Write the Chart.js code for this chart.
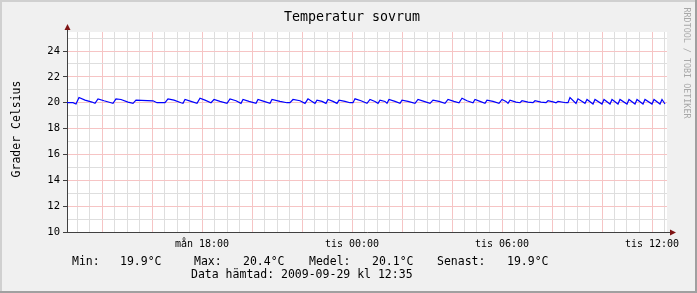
<!DOCTYPE html>
<html>
<head>
<meta charset="utf-8">
<script src="https://cdn.jsdelivr.net/npm/chart.js@4/dist/chart.umd.min.js"></script>
<style>
  html, body { margin: 0; padding: 0; background: #f0f0f0; }
  canvas { display: block; }
</style>
</head>
<body>
<canvas id="myChart" width="697" height="293"></canvas>
<script>
// time in hours counted from mån 00:00, temperature in °C
let hours = [
  12.60, 12.84, 12.96, 13.08, 13.32, 13.60, 13.72, 13.84, 14.08, 14.36,
  14.44, 14.56, 14.76, 15.04, 15.24, 15.36, 16.04, 16.20, 16.52, 16.64,
  16.88, 17.16, 17.24, 17.32, 17.56, 17.80, 17.92, 18.12, 18.36, 18.48,
  18.72, 19.00, 19.12, 19.36, 19.56, 19.64, 19.88, 20.16, 20.24, 20.48,
  20.72, 20.80, 21.12, 21.40, 21.52, 21.64, 21.92, 22.12, 22.24, 22.40,
  22.52, 22.60, 22.80, 22.96, 23.04, 23.24, 23.40, 23.48, 23.72, 23.92,
  24.04, 24.12, 24.36, 24.60, 24.72, 24.92, 25.04, 25.12, 25.32, 25.40,
  25.48, 25.72, 25.92, 26.00, 26.24, 26.52, 26.64, 26.88, 27.12, 27.24,
  27.48, 27.72, 27.84, 28.08, 28.28, 28.40, 28.60, 28.84, 28.92, 29.12,
  29.32, 29.40, 29.64, 29.88, 30.00, 30.16, 30.24, 30.32, 30.56, 30.72,
  30.80, 31.04, 31.24, 31.32, 31.56, 31.76, 31.84, 32.08, 32.16, 32.24,
  32.56, 32.64, 32.72, 32.96, 33.04, 33.32, 33.40, 33.64, 33.72, 34.00,
  34.08, 34.32, 34.40, 34.64, 34.72, 35.00, 35.08, 35.32, 35.40, 35.64,
  35.72, 36.00, 36.08, 36.32, 36.40, 36.52
];
let temps = [
  20.0, 20.0, 19.9, 20.4, 20.2, 20.05, 19.95, 20.3, 20.15, 20.0,
  19.95, 20.3, 20.25, 20.05, 19.95, 20.2, 20.15, 20.0, 20.0, 20.3,
  20.2, 20.0, 19.95, 20.25, 20.1, 19.95, 20.35, 20.2, 20.0, 20.25,
  20.1, 19.95, 20.3, 20.15, 19.95, 20.25, 20.1, 19.95, 20.25, 20.1,
  19.95, 20.25, 20.1, 20.0, 20.0, 20.25, 20.15, 19.95, 20.3, 20.1,
  19.95, 20.2, 20.1, 19.95, 20.25, 20.1, 19.95, 20.2, 20.1, 20.0,
  20.0, 20.3, 20.15, 19.95, 20.25, 20.1, 19.95, 20.2, 20.1, 19.95,
  20.25, 20.1, 19.95, 20.2, 20.1, 19.95, 20.25, 20.1, 19.95, 20.2,
  20.1, 19.95, 20.25, 20.1, 20.0, 20.35, 20.15, 20.0, 20.25, 20.1,
  19.95, 20.2, 20.1, 19.95, 20.25, 20.1, 19.95, 20.2, 20.05, 20.0,
  20.15, 20.05, 20.0, 20.15, 20.05, 20.0, 20.15, 20.05, 20.0, 20.1,
  20.0, 20.0, 20.4, 19.95, 20.3, 19.95, 20.25, 19.9, 20.25, 19.9,
  20.25, 19.9, 20.25, 19.9, 20.25, 19.9, 20.25, 19.9, 20.25, 19.9,
  20.25, 19.9, 20.25, 19.9, 20.25, 19.9
];
let timeLabels = { 18: 'mån 18:00', 24: 'tis 00:00', 30: 'tis 06:00', 36: 'tis 12:00' };
let yTickLabels = [10, 12, 14, 16, 18, 20, 22, 24];
let summaryNames = ['Min:', 'Max:', 'Medel:', 'Senast:'];
let summaryValues = ['19.9°C', '20.4°C', '20.1°C', '19.9°C'];
let fetchedText = 'Data hämtad: 2009-09-29 kl 12:35';

const MONO = '"DejaVu Sans Mono", monospace';
const minorGrid = '#dedede';
const majorGrid = '#f6c4c4';

let points = hours.map((h, i) => ({ x: h, y: temps[i] }));

const rrdLook = {
  id: 'rrdLook',
  beforeDraw(chart) {
    const c = chart.ctx, a = chart.chartArea;
    c.save();
    c.fillStyle = '#f0f0f0';
    c.fillRect(0, 0, chart.width, chart.height);
    // frame
    c.fillStyle = '#d0d0d0';
    c.fillRect(0, 0, chart.width, 2);
    c.fillRect(0, 0, 2, chart.height);
    c.fillStyle = '#a0a0a0';
    c.fillRect(0, chart.height - 2, chart.width, 2);
    c.fillRect(chart.width - 2, 0, 2, chart.height);
    c.fillStyle = '#ffffff';
    c.fillRect(a.left, a.top, a.right - a.left, a.bottom - a.top);
    c.restore();
  },
  afterDraw(chart) {
    const c = chart.ctx, a = chart.chartArea;
    c.save();
    // axis extensions and arrows
    c.strokeStyle = '#404040';
    c.lineWidth = 1;
    c.beginPath();
    c.moveTo(a.left + 0.5, a.top);
    c.lineTo(a.left + 0.5, a.top - 3);
    c.moveTo(a.right, a.bottom + 0.5);
    c.lineTo(a.right + 4, a.bottom + 0.5);
    c.stroke();
    c.fillStyle = '#7f1414';
    c.beginPath();
    c.moveTo(a.left + 0.5, a.top - 8);
    c.lineTo(a.left - 2.5, a.top - 2);
    c.lineTo(a.left + 3.5, a.top - 2);
    c.closePath();
    c.fill();
    c.beginPath();
    c.moveTo(a.right + 9, a.bottom + 0.5);
    c.lineTo(a.right + 3, a.bottom - 2.5);
    c.lineTo(a.right + 3, a.bottom + 3.5);
    c.closePath();
    c.fill();

    // title
    c.fillStyle = '#000';
    c.font = '13.3px ' + MONO;
    c.textAlign = 'center';
    c.textBaseline = 'alphabetic';
    c.fillText('Temperatur sovrum', 352, 21);

    // y axis title
    c.save();
    c.translate(20, 129);
    c.rotate(-Math.PI / 2);
    c.font = '11.5px ' + MONO;
    c.fillText('Grader Celsius', 0, 0);
    c.restore();

    // watermark
    c.save();
    c.translate(684, 63);
    c.rotate(Math.PI / 2);
    c.fillStyle = '#a8a8a8';
    c.font = '8.4px ' + MONO;
    c.fillText('RRDTOOL / TOBI OETIKER', 0, 0);
    c.restore();

    // summary
    c.textAlign = 'left';
    c.font = '11.5px ' + MONO;
    const nameX = [72, 194, 309, 437];
    const valX = [120, 243, 372, 507];
    summaryNames.forEach((n, i) => {
      c.fillText(n, nameX[i], 265);
      c.fillText(summaryValues[i], valX[i], 265);
    });
    c.fillText(fetchedText, 191, 278);
    c.restore();
  }
};

let ctx = document.getElementById('myChart');
let myChart = new Chart(ctx, {
  type: 'line',
  data: {
    datasets: [{
      label: 'Temperatur',
      data: points,
      borderColor: '#0000ff',
      borderWidth: 1.2,
      pointRadius: 0,
      tension: 0,
      fill: false
    }]
  },
  options: {
    responsive: false,
    animation: false,
    layout: { padding: { top: 32, left: 0, right: 30, bottom: 0 } },
    plugins: { legend: { display: false }, title: { display: false }, tooltip: { enabled: false } },
    scales: {
      x: {
        type: 'linear',
        min: 12.6,
        max: 36.6,
        afterFit(scale) { scale.height = 61; },
        afterBuildTicks(scale) {
          let t = [];
          for (let v = 13; v <= 36.5; v += 0.5) t.push({ value: v });
          scale.ticks = t;
        },
        ticks: {
          autoSkip: false,
          maxRotation: 0,
          padding: 6,
          color: '#000',
          font: { family: MONO, size: 10 },
          callback: (v) => timeLabels[v] || ''
        },
        grid: {
          drawTicks: false,
          color: (c) => (c.tick && c.tick.value % 2 === 0) ? majorGrid : minorGrid
        },
        border: { color: '#404040' }
      },
      y: {
        min: 10,
        max: 25.47,
        afterFit(scale) { scale.width = 67; },
        afterBuildTicks(scale) {
          let t = [];
          for (let v = 10; v <= 25; v++) t.push({ value: v });
          scale.ticks = t;
        },
        ticks: {
          autoSkip: false,
          padding: 3,
          color: '#000',
          font: { family: MONO, size: 10.5 },
          callback: (v) => yTickLabels.includes(v) ? String(v) : ''
        },
        grid: {
          tickLength: 4,
          color: (c) => (c.tick && c.tick.value % 2 === 0) ? majorGrid : minorGrid,
          tickColor: (c) => (c.tick && c.tick.value % 2 === 0) ? '#404040' : 'rgba(0,0,0,0)'
        },
        border: { color: '#404040' }
      }
    }
  },
  plugins: [rrdLook]
});
</script>
</body>
</html>
